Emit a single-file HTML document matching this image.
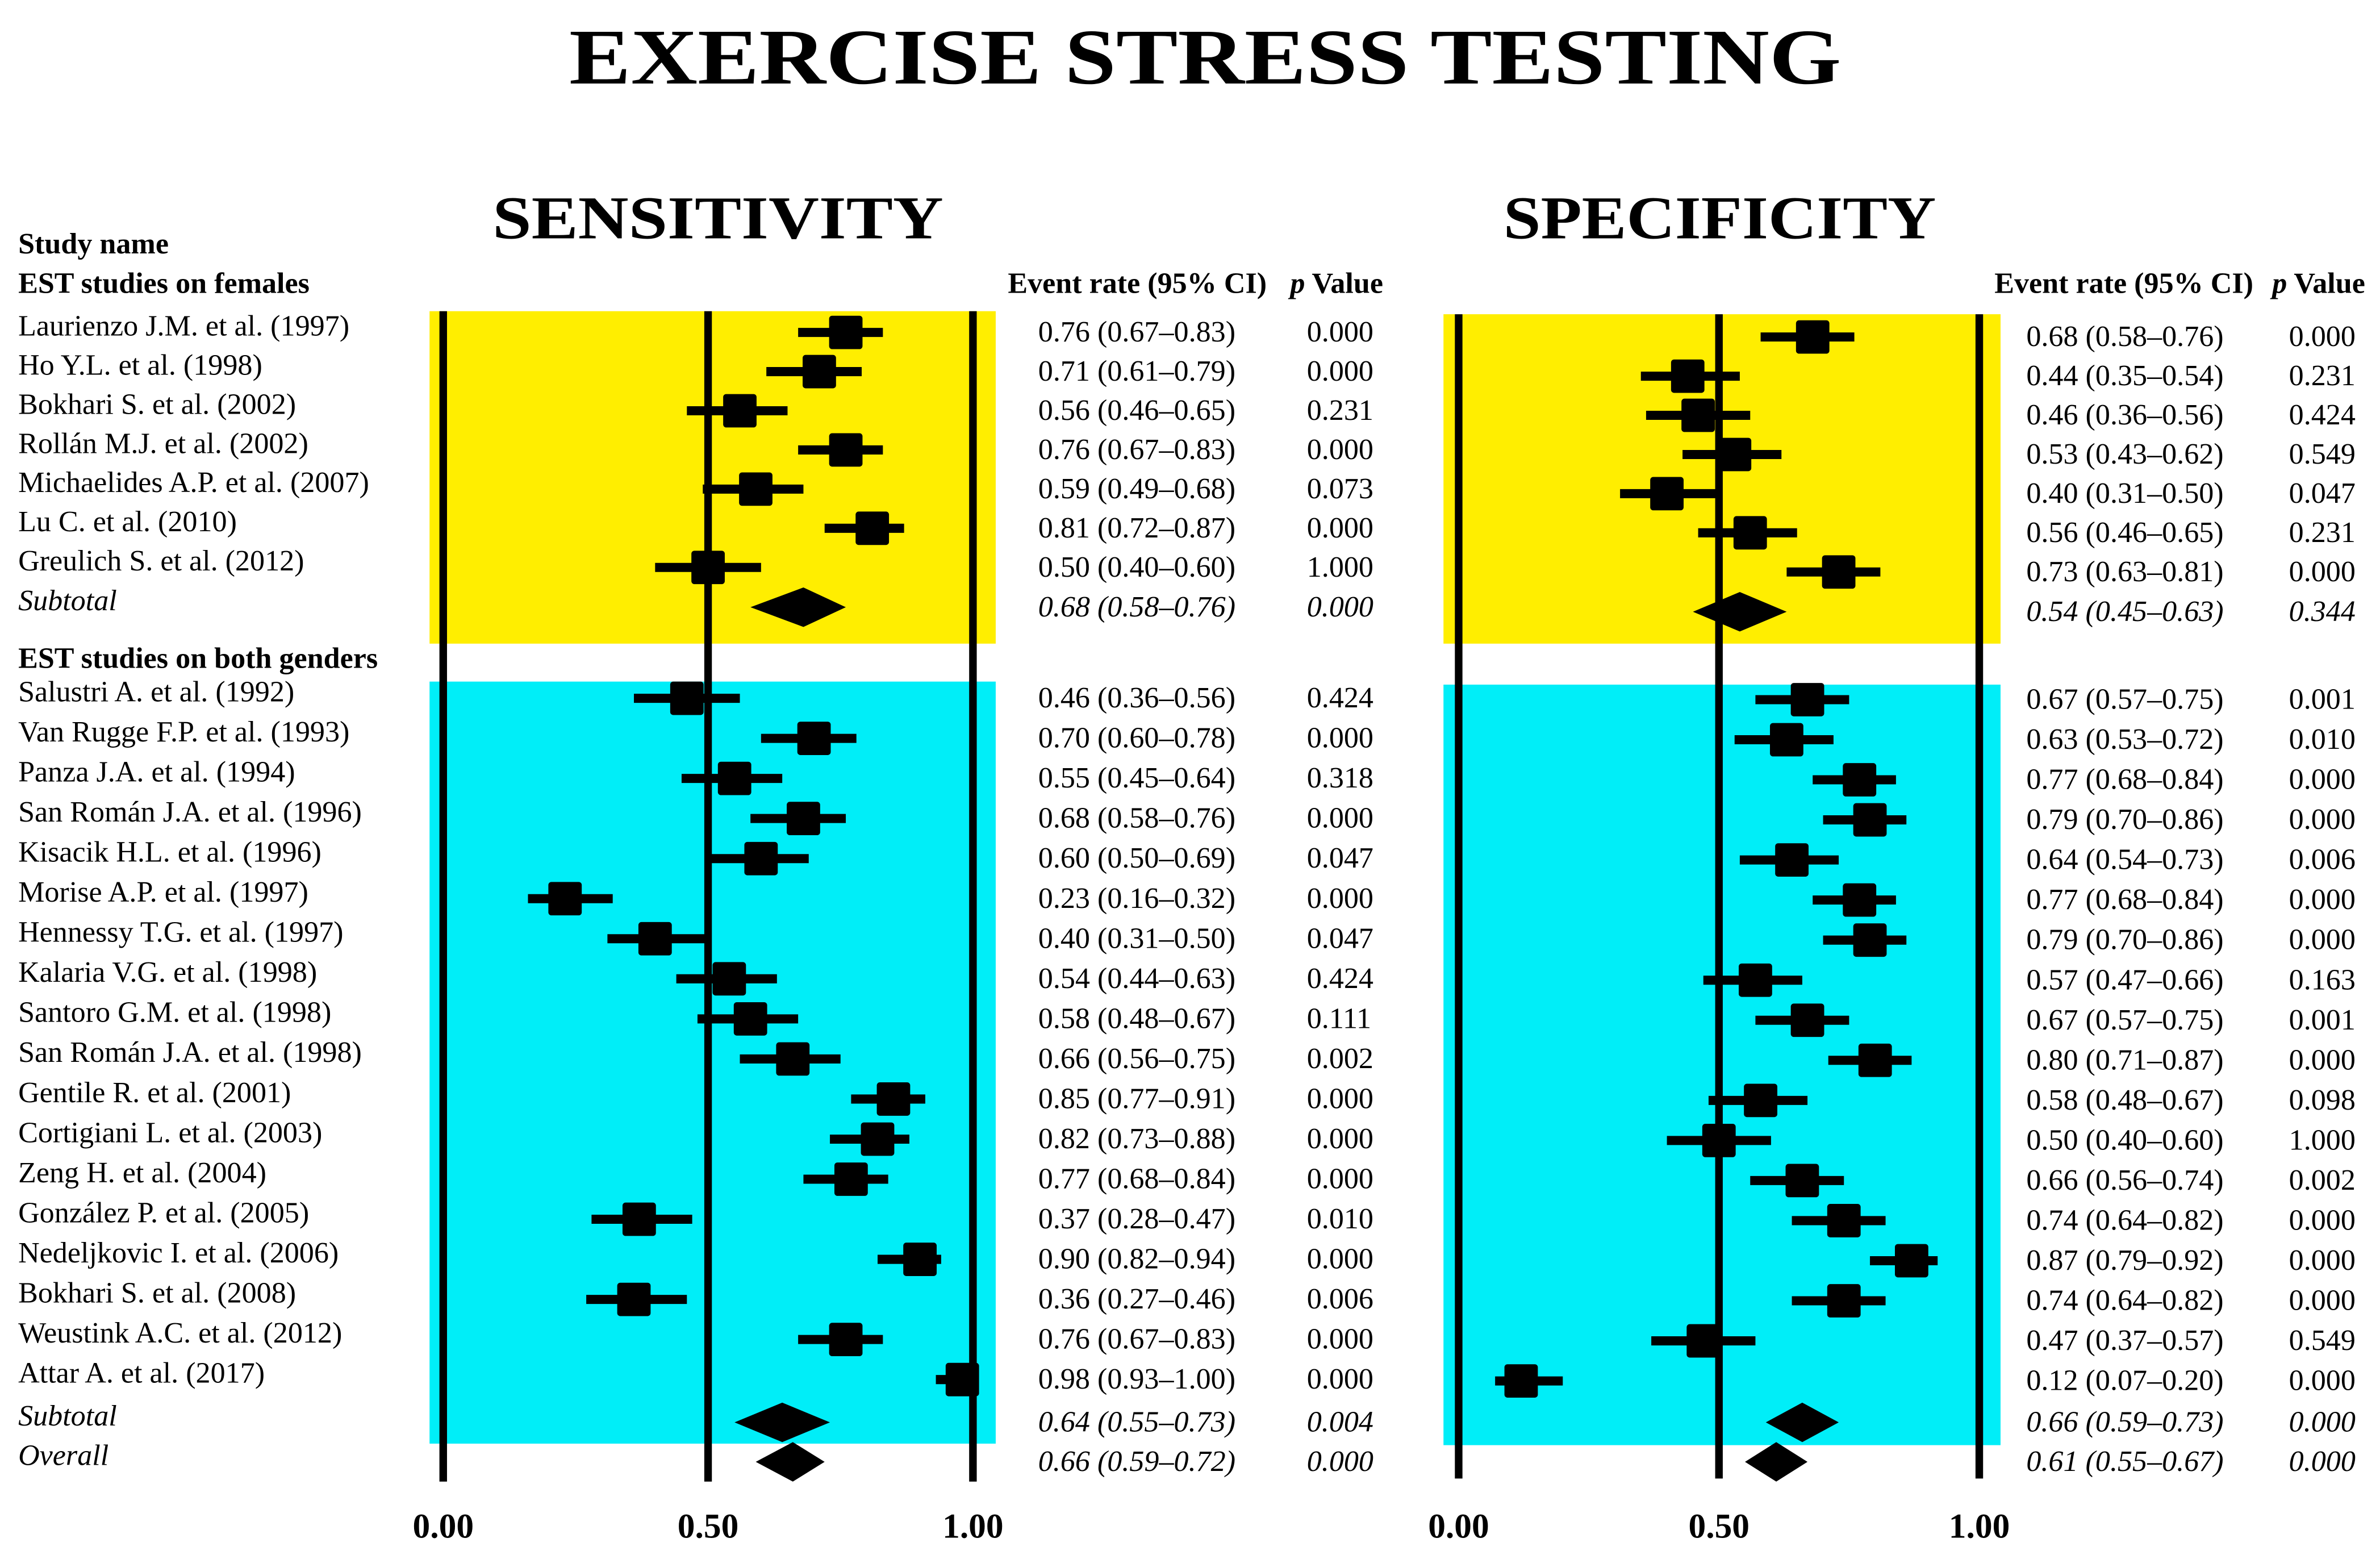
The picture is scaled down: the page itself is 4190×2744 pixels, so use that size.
<!DOCTYPE html>
<html><head><meta charset="utf-8"><style>
html,body{margin:0;padding:0;background:#fff;}
svg{display:block;}
text{font-family:"Liberation Serif",serif;fill:#000;}
</style></head><body>
<svg id="chart" width="4190" height="2744" viewBox="0 0 1568 1027" preserveAspectRatio="none" xmlns="http://www.w3.org/2000/svg">
<text x="794" y="55" text-anchor="middle" font-size="52" font-weight="bold" textLength="838" lengthAdjust="spacingAndGlyphs">EXERCISE STRESS TESTING</text>
<text x="473" y="157" text-anchor="middle" font-size="40" font-weight="bold" textLength="297" lengthAdjust="spacingAndGlyphs">SENSITIVITY</text>
<text x="1133" y="157" text-anchor="middle" font-size="40" font-weight="bold" textLength="285" lengthAdjust="spacingAndGlyphs">SPECIFICITY</text>
<text x="12" y="167" font-size="19.5" font-weight="bold">Study name</text>
<text x="12" y="193" font-size="19.5" font-weight="bold">EST studies on females</text>
<text x="12" y="440" font-size="19.5" font-weight="bold">EST studies on both genders</text>
<g id="sens"></g>
<g id="spec"></g>
<g id="names"></g>
</svg>
<script>
const studyNames = ["Laurienzo J.M. et al. (1997)","Ho Y.L. et al. (1998)","Bokhari S. et al. (2002)","Rollán M.J. et al. (2002)","Michaelides A.P. et al. (2007)","Lu C. et al. (2010)","Greulich S. et al. (2012)","Subtotal",
"Salustri A. et al. (1992)","Van Rugge F.P. et al. (1993)","Panza J.A. et al. (1994)","San Román J.A. et al. (1996)","Kisacik H.L. et al. (1996)","Morise A.P. et al. (1997)","Hennessy T.G. et al. (1997)","Kalaria V.G. et al. (1998)","Santoro G.M. et al. (1998)","San Román J.A. et al. (1998)","Gentile R. et al. (2001)","Cortigiani L. et al. (2003)","Zeng H. et al. (2004)","González P. et al. (2005)","Nedeljkovic I. et al. (2006)","Bokhari S. et al. (2008)","Weustink A.C. et al. (2012)","Attar A. et al. (2017)","Subtotal","Overall"];
const rowKind = ["s","s","s","s","s","s","s","d","s","s","s","s","s","s","s","s","s","s","s","s","s","s","s","s","s","s","d","d"];
const sensEst = [0.76,0.71,0.56,0.76,0.59,0.81,0.50,0.68,0.46,0.70,0.55,0.68,0.60,0.23,0.40,0.54,0.58,0.66,0.85,0.82,0.77,0.37,0.90,0.36,0.76,0.98,0.64,0.66];
const sensLo  = [0.67,0.61,0.46,0.67,0.49,0.72,0.40,0.58,0.36,0.60,0.45,0.58,0.50,0.16,0.31,0.44,0.48,0.56,0.77,0.73,0.68,0.28,0.82,0.27,0.67,0.93,0.55,0.59];
const sensHi  = [0.83,0.79,0.65,0.83,0.68,0.87,0.60,0.76,0.56,0.78,0.64,0.76,0.69,0.32,0.50,0.63,0.67,0.75,0.91,0.88,0.84,0.47,0.94,0.46,0.83,1.00,0.73,0.72];
const sensP   = ["0.000","0.000","0.231","0.000","0.073","0.000","1.000","0.000","0.424","0.000","0.318","0.000","0.047","0.000","0.047","0.424","0.111","0.002","0.000","0.000","0.000","0.010","0.000","0.006","0.000","0.000","0.004","0.000"];
const specEst = [0.68,0.44,0.46,0.53,0.40,0.56,0.73,0.54,0.67,0.63,0.77,0.79,0.64,0.77,0.79,0.57,0.67,0.80,0.58,0.50,0.66,0.74,0.87,0.74,0.47,0.12,0.66,0.61];
const specLo  = [0.58,0.35,0.36,0.43,0.31,0.46,0.63,0.45,0.57,0.53,0.68,0.70,0.54,0.68,0.70,0.47,0.57,0.71,0.48,0.40,0.56,0.64,0.79,0.64,0.37,0.07,0.59,0.55];
const specHi  = [0.76,0.54,0.56,0.62,0.50,0.65,0.81,0.63,0.75,0.72,0.84,0.86,0.73,0.84,0.86,0.66,0.75,0.87,0.67,0.60,0.74,0.82,0.92,0.82,0.57,0.20,0.73,0.67];
const specP   = ["0.000","0.231","0.424","0.549","0.047","0.231","0.000","0.344","0.001","0.010","0.000","0.000","0.006","0.000","0.000","0.163","0.001","0.000","0.098","1.000","0.002","0.000","0.000","0.000","0.549","0.000","0.000","0.000"];
const tickVals = [0, 0.5, 1];
const tickLabels = ["0.00","0.50","1.00"];

const NS="http://www.w3.org/2000/svg";
function mk(tag,attrs,parent){const e=document.createElementNS(NS,tag);for(const k in attrs)e.setAttribute(k,attrs[k]);parent.appendChild(e);return e;}
function f2(v){return v.toFixed(2);}
function rowY(i,off){
  if(i<=6) return 219+25.8*i+off;
  if(i===7) return 400+off;
  if(i<=25) return 460+26.4*(i-8)+off*0.3;
  if(i===26) return 937;
  return 963;
}
const names=document.getElementById('names');
studyNames.forEach((n,i)=>{
  const t=mk('text',{x:12,y:rowY(i,0)+2,'font-size':19.5},names);
  if(rowKind[i]==='d') t.setAttribute('font-style','italic');
  
  
  t.textContent=n;
});
function panel(g,cfg,est,lo,hi,pv){
  const x=v=>cfg.x0+v*(cfg.x1-cfg.x0);
  let r=mk('rect',{x:cfg.bx0,y:cfg.yy0,width:cfg.bx1-cfg.bx0,height:cfg.yy1-cfg.yy0,fill:'#ffee00'},g);
  
  
  r=mk('rect',{x:cfg.bx0,y:cfg.cy0,width:cfg.bx1-cfg.bx0,height:cfg.cy1-cfg.cy0,fill:'#00eef8'},g);
  
  
  tickVals.forEach((v,k)=>{
    const l=mk('line',{x1:x(v),x2:x(v),y1:cfg.yy0,y2:cfg.lineEnd,stroke:'#000','stroke-width':5},g);
    
    
    const t=mk('text',{x:x(v),y:1013,'text-anchor':'middle','font-size':23,'font-weight':'bold'},g);
    
    
    t.textContent=tickLabels[k];
  });
  let h=mk('text',{x:cfg.hx,y:193,'font-size':19.5,'font-weight':'bold'},g);
  
  
  h.textContent='Event rate (95% CI)';
  h=mk('text',{x:cfg.px-11,y:193,'font-size':19.5,'font-weight':'bold'},g);
  
  
  h.innerHTML='<tspan font-style="italic">p</tspan> Value';
  est.forEach((e,i)=>{
    const y=rowY(i,cfg.off);
    if(rowKind[i]==='s'){
      const l=mk('line',{x1:x(lo[i]),x2:x(hi[i]),y1:y,y2:y,stroke:'#000','stroke-width':6},g);
      
      
      const b=mk('rect',{x:x(e)-11,y:y-11,width:22,height:22,fill:'#000',rx:2},g);
      
      
    } else {
      const hh=13;
      const d=mk('polygon',{points:`${x(lo[i])},${y} ${x(e)},${y-hh} ${x(hi[i])},${y} ${x(e)},${y+hh}`,fill:'#000'},g);
      
      
    }
    const t=mk('text',{x:cfg.vx,y:y+6,'font-size':19.5},g);
    
    
    t.textContent=f2(e)+' ('+f2(lo[i])+'–'+f2(hi[i])+')';
    const p=mk('text',{x:cfg.px,y:y+6,'font-size':19.5},g);
    
    
    p.textContent=pv[i];
    if(rowKind[i]==='d'){t.setAttribute('font-style','italic');p.setAttribute('font-style','italic');}
  });
}
panel(document.getElementById('sens'),{x0:292,x1:641,bx0:283,bx1:656,yy0:205,yy1:424,cy0:449,cy1:951,lineEnd:976,hx:664,vx:684,px:861,off:0},sensEst,sensLo,sensHi,sensP);
panel(document.getElementById('spec'),{x0:961,x1:1304,bx0:951,bx1:1318,yy0:207,yy1:424,cy0:451,cy1:952,lineEnd:974,hx:1314,vx:1335,px:1508,off:3},specEst,specLo,specHi,specP);
</script>
</body></html>
